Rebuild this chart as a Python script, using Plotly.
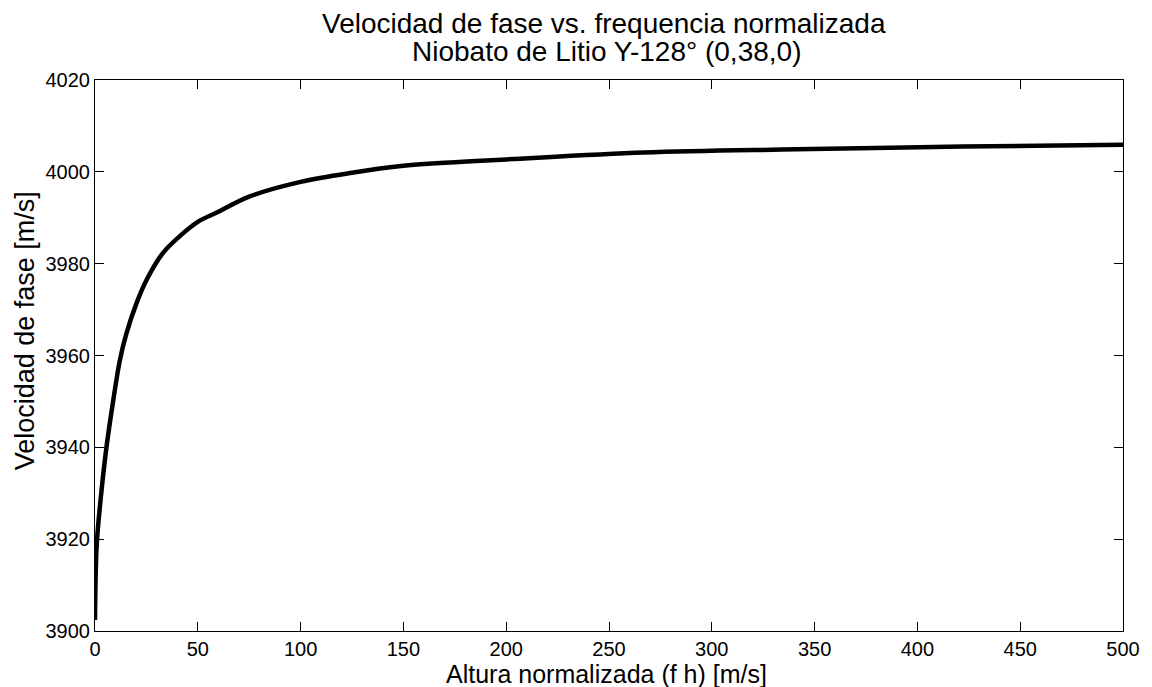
import plotly.graph_objects as go

# Normalized height (f h) [m/s]
altura = [0, 0.8, 2.7, 5.6, 8.9, 12.1, 15.3, 20.2, 25, 33, 41, 50, 60, 75,
          100, 125, 150, 175, 200, 267, 341, 422, 500]
# Phase velocity [m/s]
velocidad = [3902.4, 3918.5, 3928.5, 3940.1, 3950.3, 3959.0, 3964.8, 3971.4,
             3976.4, 3982.3, 3985.9, 3989.1, 3991.3, 3994.6, 3997.8, 3999.8,
             4001.3, 4002.1, 4002.7, 4004.2, 4004.9, 4005.5, 4005.9]

x_ticks = [0, 50, 100, 150, 200, 250, 300, 350, 400, 450, 500]
y_ticks = [3900, 3920, 3940, 3960, 3980, 4000, 4020]

title_1 = "Velocidad de fase vs. frequencia normalizada"
title_2 = "Niobato de Litio Y-128° (0,38,0)"
x_title = "Altura normalizada (f h) [m/s]"
y_title = "Velocidad de fase [m/s]"

FONT = "Liberation Sans, Arial, sans-serif"
TITLE_SIZE = 28
LABEL_SIZE = 27
XLABEL_SIZE = 25
TICK_SIZE = 20

fig = go.Figure()
fig.add_trace(go.Scatter(x=altura, y=velocidad, mode="lines",
                         line=dict(color="black", width=4.5, shape="spline", smoothing=1.0),
                         showlegend=False, hoverinfo="skip"))

axis_common = dict(showgrid=False, zeroline=False, showline=True, linecolor="black",
                   linewidth=1, mirror="ticks", ticks="inside", ticklen=9,
                   tickcolor="black", tickfont=dict(family=FONT, size=TICK_SIZE, color="black"))

fig.update_xaxes(range=[0, 500], tickvals=x_ticks, ticktext=[str(v) for v in x_ticks],
                 **axis_common)
fig.update_yaxes(range=[3900, 4020], tickvals=y_ticks, ticktext=[str(v) for v in y_ticks],
                 **axis_common)

PLOT_TOP, PLOT_BOTTOM, PLOT_LEFT, PLOT_W = 80, 631, 95, 1033
PLOT_H = PLOT_BOTTOM - PLOT_TOP


def py(pix):
    return (PLOT_BOTTOM - pix) / PLOT_H


def px(pix):
    return (pix - PLOT_LEFT) / PLOT_W


title_font = dict(family=FONT, size=TITLE_SIZE, color="black")
label_font = dict(family=FONT, size=LABEL_SIZE, color="black")
xlabel_font = dict(family=FONT, size=XLABEL_SIZE, color="black")
annotations = [
    dict(text=title_1, xref="paper", yref="paper", x=px(606), y=py(23),
         xanchor="center", yanchor="middle", showarrow=False, font=title_font),
    dict(text=title_2, xref="paper", yref="paper", x=px(609), y=py(51),
         xanchor="center", yanchor="middle", showarrow=False, font=title_font),
    dict(text=x_title, xref="paper", yref="paper", x=px(609), y=py(674),
         xanchor="center", yanchor="middle", showarrow=False, font=xlabel_font,
         borderpad=0),
    dict(text=y_title, xref="paper", yref="paper", x=px(25), y=py(331),
         xanchor="center", yanchor="middle", showarrow=False, textangle=-90, font=label_font),
]

fig.update_layout(
    width=1152, height=687,
    margin=dict(l=95, r=24, t=80, b=56),
    plot_bgcolor="white", paper_bgcolor="white",
    annotations=annotations,
)

fig.write_html("out.html")
